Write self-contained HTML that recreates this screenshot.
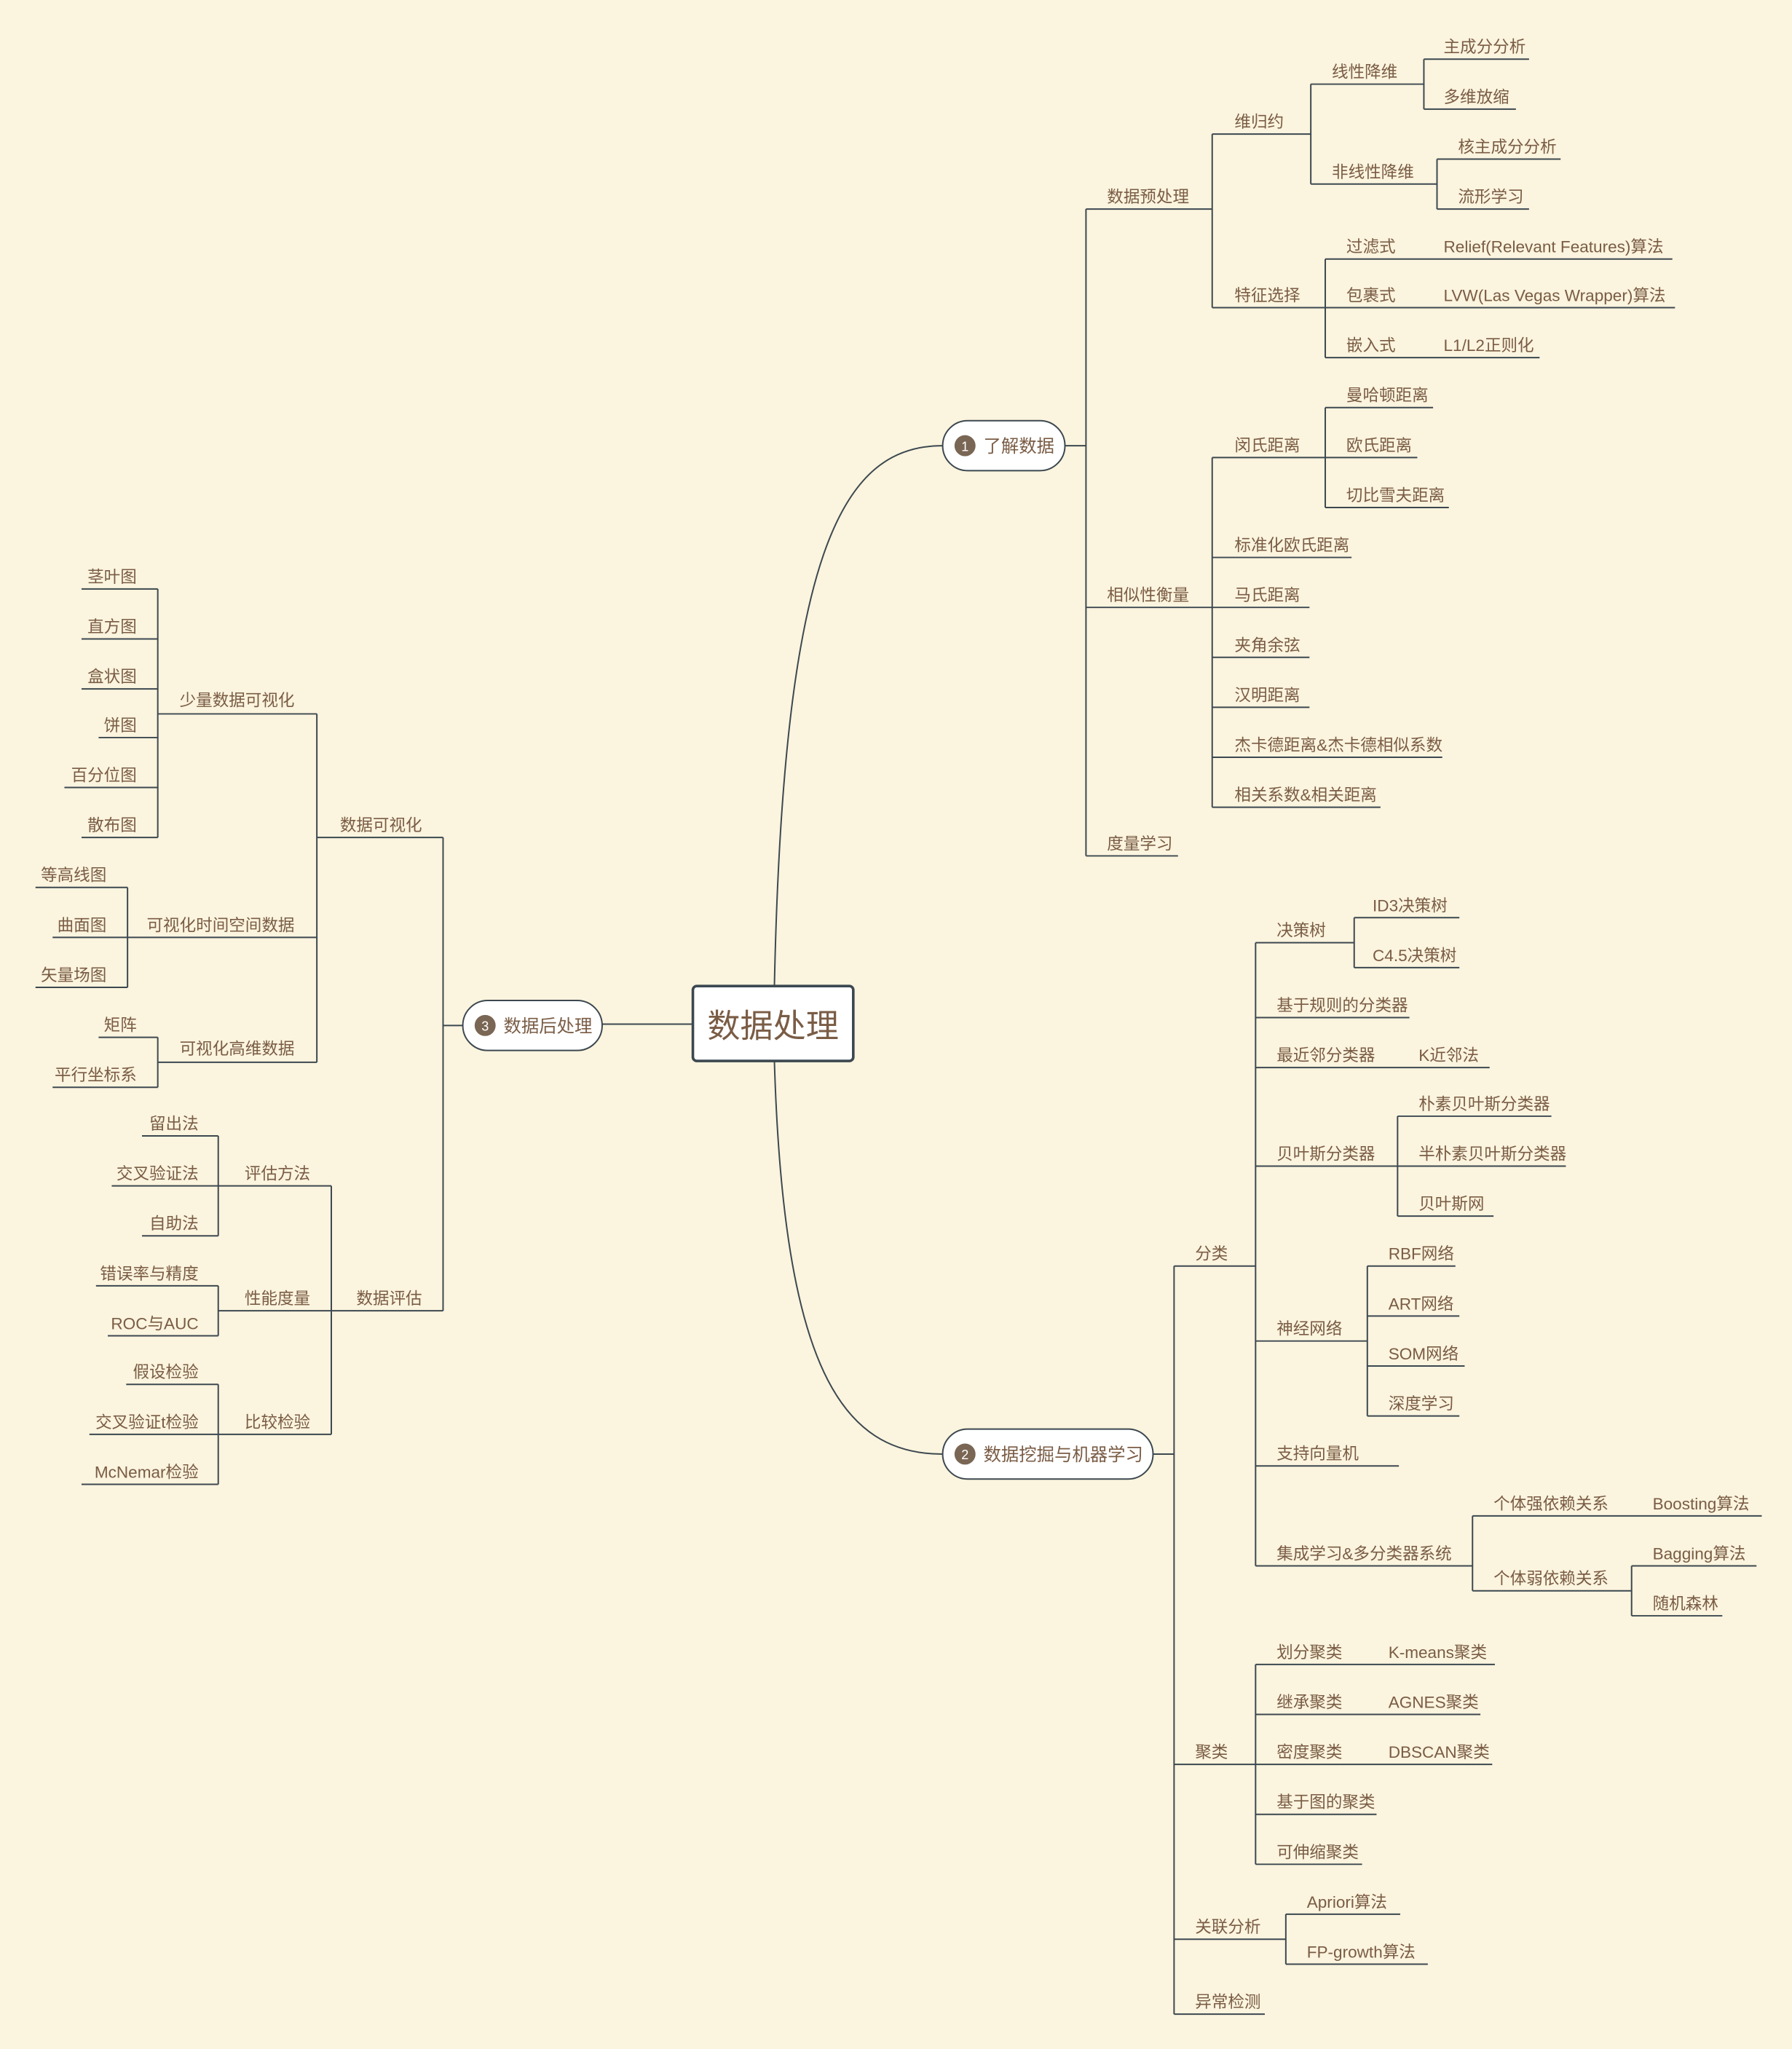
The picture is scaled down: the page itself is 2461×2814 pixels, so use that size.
<!DOCTYPE html>
<html><head><meta charset="utf-8"><style>
html,body{margin:0;padding:0;background:#fbf4de;}
svg{display:block}
text{font-family:"Liberation Sans","Noto Sans CJK SC",sans-serif;font-size:12.5px;fill:#7a5c45}
.e{text-anchor:end}
</style></head><body>
<svg width="2461" height="2814" viewBox="0 0 1363 1558.5" xmlns="http://www.w3.org/2000/svg">
<rect width="1363" height="1559" fill="#fbf4de"/>
<g fill="none" stroke="#3c4850" stroke-width="1.1">
<!-- main curves -->
<path d="M589,750 C596,420 640,339 717,339"/>
<path d="M589,807 C596,1040 640,1106 717,1106"/>
<path d="M527,779 H458"/>
<!-- 了解数据 -->
<path d="M810,339 H826 M826,159 V651 M826,159 H922 M826,462 H922 M826,651 H896"/>
<path d="M922,102 V234 M922,102 H997 M922,234 H1008"/>
<path d="M997,64 V140 M997,64 H1083 M997,140 H1093"/>
<path d="M1083,45 V83 M1083,45 H1163 M1083,83 H1153"/>
<path d="M1093,121 V159 M1093,121 H1187 M1093,159 H1163"/>
<path d="M1008,197 V272 M1008,197 H1272 M1008,234 H1274 M1008,272 H1171"/>
<path d="M922,348 V614 M922,348 H1008 M922,424 H1028 M922,462 H996 M922,500 H996 M922,538 H996 M922,576 H1097 M922,614 H1050"/>
<path d="M1008,310 V386 M1008,310 H1090 M1008,348 H1078 M1008,386 H1102"/>
<!-- 数据挖掘 -->
<path d="M877,1106 H893 M893,963 V1532 M893,963 H955 M893,1342 H955 M893,1475 H978 M893,1532 H962"/>
<path d="M955,717 V1191 M955,717 H1030 M955,774 H1072 M955,812 H1133 M955,887 H1063 M955,1020 H1040 M955,1115 H1064 M955,1191 H1120"/>
<path d="M1030,698 V736 M1030,698 H1110 M1030,736 H1110"/>
<path d="M1063,849 V925 M1063,849 H1180 M1063,887 H1191 M1063,925 H1136"/>
<path d="M1040,963 V1077 M1040,963 H1107 M1040,1001 H1110 M1040,1039 H1114 M1040,1077 H1110"/>
<path d="M1120,1153 V1210 M1120,1153 H1340 M1120,1210 H1241"/>
<path d="M1241,1191 V1229 M1241,1191 H1336 M1241,1229 H1310"/>
<path d="M955,1266 V1418 M955,1266 H1137 M955,1304 H1126 M955,1342 H1135 M955,1380 H1047 M955,1418 H1036"/>
<path d="M978,1456 V1494 M978,1456 H1065 M978,1494 H1086"/>
<!-- 数据后处理 -->
<path d="M352,780 H337 M337,637 V997 M337,637 H241 M337,997 H252"/>
<path d="M241,543 V808 M241,543 H120 M241,713 H97 M241,808 H120"/>
<path d="M120,448 V637 M120,448 H62 M120,486 H62 M120,524 H62 M120,561 H75 M120,599 H49 M120,637 H62"/>
<path d="M97,675 V751 M97,675 H27 M97,713 H40 M97,751 H27"/>
<path d="M120,789 V827 M120,789 H75 M120,827 H40"/>
<path d="M252,902 V1091 M252,902 H166 M252,997 H166 M252,1091 H166"/>
<path d="M166,864 V940 M166,864 H108 M166,902 H85 M166,940 H108"/>
<path d="M166,978 V1016 M166,978 H73 M166,1016 H82"/>
<path d="M166,1053 V1129 M166,1053 H96 M166,1091 H68 M166,1129 H62"/>
</g>
<!-- center -->
<rect x="527" y="750" width="122" height="57" rx="3" fill="#fff" stroke="#3c4850" stroke-width="2"/>
<text x="588" y="789" text-anchor="middle" style="font-size:25px">数据处理</text>
<!-- pills -->
<g stroke="#3c4850" stroke-width="1.1" fill="#fff">
<rect x="717" y="320" width="93" height="38" rx="19"/>
<rect x="717" y="1087" width="160" height="38" rx="19"/>
<rect x="352" y="761" width="106" height="38" rx="19"/>
</g>
<g fill="#7a6654"><circle cx="734" cy="339" r="8"/><circle cx="734" cy="1106" r="8"/><circle cx="369" cy="780" r="8"/></g>
<g style="font-size:10px;fill:#fff" text-anchor="middle">
<text x="734" y="343" style="font-size:10px;fill:#fff">1</text>
<text x="734" y="1110" style="font-size:10px;fill:#fff">2</text>
<text x="369" y="784" style="font-size:10px;fill:#fff">3</text>
</g>
<text x="748" y="344" style="font-size:13.5px">了解数据</text>
<text x="748" y="1111" style="font-size:13.5px">数据挖掘与机器学习</text>
<text x="383" y="785" style="font-size:13.5px">数据后处理</text>
<!-- right top -->
<text x="842" y="154">数据预处理</text>
<text x="842" y="457">相似性衡量</text>
<text x="842" y="646">度量学习</text>
<text x="939" y="97">维归约</text>
<text x="939" y="229">特征选择</text>
<text x="1013" y="59">线性降维</text>
<text x="1013" y="135">非线性降维</text>
<text x="1098" y="40">主成分分析</text>
<text x="1098" y="78">多维放缩</text>
<text x="1109" y="116">核主成分分析</text>
<text x="1109" y="154">流形学习</text>
<text x="1024" y="192">过滤式</text>
<text x="1024" y="229">包裹式</text>
<text x="1024" y="267">嵌入式</text>
<text x="1098" y="192">Relief(Relevant Features)算法</text>
<text x="1098" y="229">LVW(Las Vegas Wrapper)算法</text>
<text x="1098" y="267">L1/L2正则化</text>
<text x="939" y="343">闵氏距离</text>
<text x="939" y="419">标准化欧氏距离</text>
<text x="939" y="457">马氏距离</text>
<text x="939" y="495">夹角余弦</text>
<text x="939" y="533">汉明距离</text>
<text x="939" y="571">杰卡德距离&amp;杰卡德相似系数</text>
<text x="939" y="609">相关系数&amp;相关距离</text>
<text x="1024" y="305">曼哈顿距离</text>
<text x="1024" y="343">欧氏距离</text>
<text x="1024" y="381">切比雪夫距离</text>
<!-- right bottom -->
<text x="909" y="958">分类</text>
<text x="909" y="1337">聚类</text>
<text x="909" y="1470">关联分析</text>
<text x="909" y="1527">异常检测</text>
<text x="971" y="712">决策树</text>
<text x="971" y="769">基于规则的分类器</text>
<text x="971" y="807">最近邻分类器</text>
<text x="1079" y="807">K近邻法</text>
<text x="971" y="882">贝叶斯分类器</text>
<text x="971" y="1015">神经网络</text>
<text x="971" y="1110">支持向量机</text>
<text x="971" y="1186">集成学习&amp;多分类器系统</text>
<text x="1044" y="693">ID3决策树</text>
<text x="1044" y="731">C4.5决策树</text>
<text x="1079" y="844">朴素贝叶斯分类器</text>
<text x="1079" y="882">半朴素贝叶斯分类器</text>
<text x="1079" y="920">贝叶斯网</text>
<text x="1056" y="958">RBF网络</text>
<text x="1056" y="996">ART网络</text>
<text x="1056" y="1034">SOM网络</text>
<text x="1056" y="1072">深度学习</text>
<text x="1136" y="1148">个体强依赖关系</text>
<text x="1257" y="1148">Boosting算法</text>
<text x="1136" y="1205">个体弱依赖关系</text>
<text x="1257" y="1186">Bagging算法</text>
<text x="1257" y="1224">随机森林</text>
<text x="971" y="1261">划分聚类</text>
<text x="1056" y="1261">K-means聚类</text>
<text x="971" y="1299">继承聚类</text>
<text x="1056" y="1299">AGNES聚类</text>
<text x="971" y="1337">密度聚类</text>
<text x="1056" y="1337">DBSCAN聚类</text>
<text x="971" y="1375">基于图的聚类</text>
<text x="971" y="1413">可伸缩聚类</text>
<text x="994" y="1451">Apriori算法</text>
<text x="994" y="1489">FP-growth算法</text>
<!-- left -->
<text class="e" x="321" y="632">数据可视化</text>
<text class="e" x="321" y="992">数据评估</text>
<text class="e" x="224" y="537">少量数据可视化</text>
<text class="e" x="224" y="708">可视化时间空间数据</text>
<text class="e" x="224" y="802">可视化高维数据</text>
<text class="e" x="104" y="443">茎叶图</text>
<text class="e" x="104" y="481">直方图</text>
<text class="e" x="104" y="519">盒状图</text>
<text class="e" x="104" y="556">饼图</text>
<text class="e" x="104" y="594">百分位图</text>
<text class="e" x="104" y="632">散布图</text>
<text class="e" x="81" y="670">等高线图</text>
<text class="e" x="81" y="708">曲面图</text>
<text class="e" x="81" y="746">矢量场图</text>
<text class="e" x="104" y="784">矩阵</text>
<text class="e" x="104" y="822">平行坐标系</text>
<text class="e" x="236" y="897">评估方法</text>
<text class="e" x="236" y="992">性能度量</text>
<text class="e" x="236" y="1086">比较检验</text>
<text class="e" x="151" y="859">留出法</text>
<text class="e" x="151" y="897">交叉验证法</text>
<text class="e" x="151" y="935">自助法</text>
<text class="e" x="151" y="973">错误率与精度</text>
<text class="e" x="151" y="1011">ROC与AUC</text>
<text class="e" x="151" y="1048">假设检验</text>
<text class="e" x="151" y="1086">交叉验证t检验</text>
<text class="e" x="151" y="1124">McNemar检验</text>
</svg>
</body></html>
